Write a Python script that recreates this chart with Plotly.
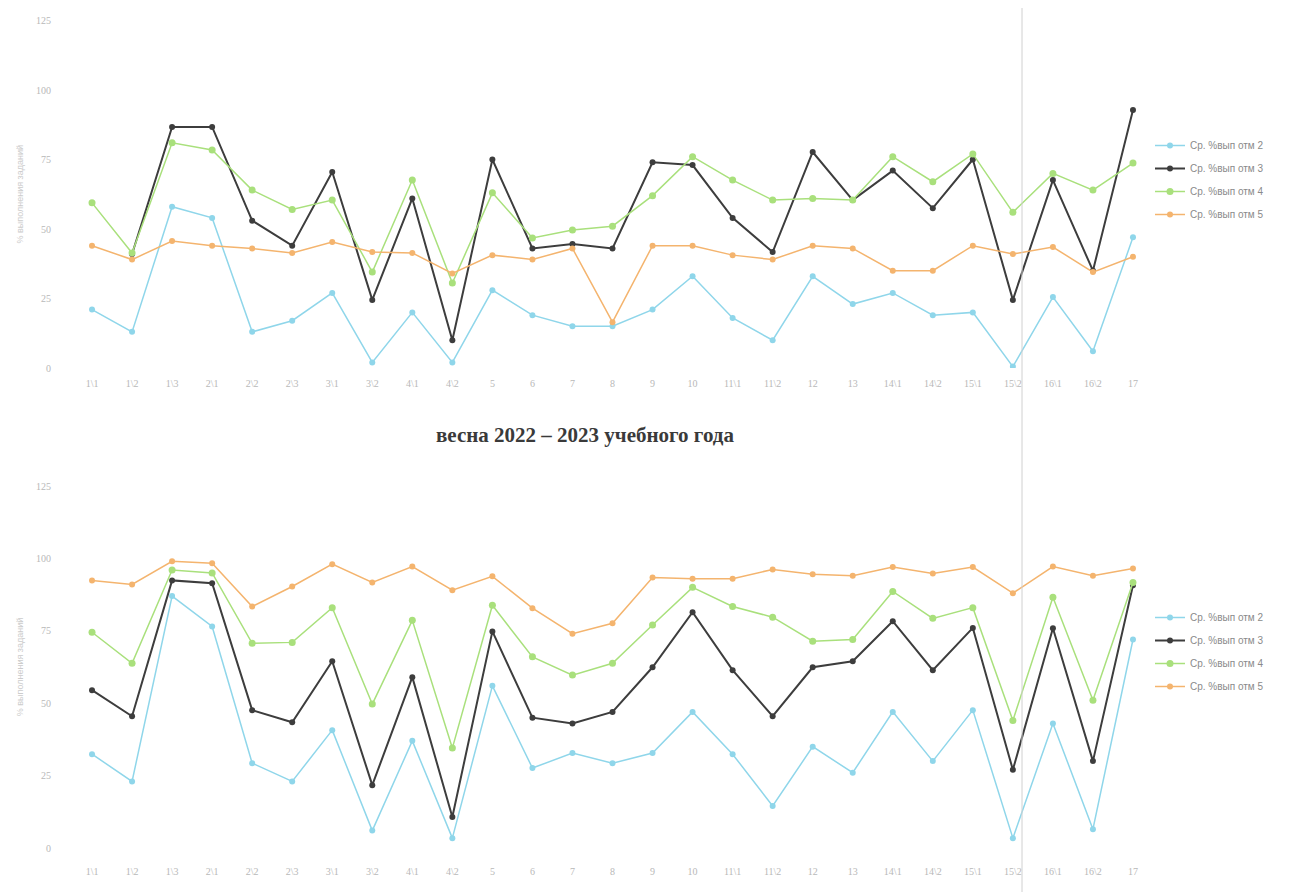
import plotly.graph_objects as go

categories = ["1\\1", "1\\2", "1\\3", "2\\1", "2\\2", "2\\3", "3\\1", "3\\2", "4\\1", "4\\2",
              "5", "6", "7", "8", "9", "10", "11\\1", "11\\2", "12", "13",
              "14\\1", "14\\2", "15\\1", "15\\2", "16\\1", "16\\2", "17"]

series_names = ["Ср. %вып отм 2", "Ср. %вып отм 3", "Ср. %вып отм 4", "Ср. %вып отм 5"]

# autumn (top chart)
top_m2 = [21, 13, 58, 54, 13, 17, 27, 2, 20, 2, 28, 19, 15, 15, 21, 33, 18, 10, 33, 23, 27, 19, 20, 0.5, 25.5, 6, 47]
top_m3 = [None, 41, 86.7, 86.7, 53, 44, 70.5, 24.5, 61, 10, 75, 43, 44.6, 43, 74, 73, 54, 41.7, 77.7, 60.4, 71, 57.5, 75, 24.5, 67.6, 35, 92.8]
top_m4 = [59.4, 41.4, 81, 78.4, 64, 57, 60.4, 34.5, 67.6, 30.6, 63, 46.8, 49.6, 51, 62, 76, 67.6, 60.4, 61, 60.4, 76, 67, 77, 56, 70, 64, 73.7]
top_m5 = [44, 39, 45.7, 44, 43, 41.4, 45.3, 41.7, 41.4, 34, 40.6, 39, 43, 16.5, 44, 44, 40.6, 39, 44, 43, 35, 35, 44, 41, 43.5, 34.5, 40]

# spring (bottom chart)
bot_m2 = [32.4, 23, 87, 76.5, 29.3, 23, 40.7, 6, 37, 3.4, 56, 27.6, 32.8, 29.3, 32.8, 47, 32.4, 14.5, 35, 26, 47, 30, 47.6, 3.4, 43, 6.5, 72]
bot_m3 = [54.5, 45.5, 92.4, 91.4, 47.6, 43.4, 64.5, 21.7, 59, 10.7, 74.8, 45, 43, 47, 62.4, 81.4, 61.4, 45.5, 62.4, 64.5, 78.3, 61.4, 76, 27, 75.9, 30, 90.7]
bot_m4 = [74.5, 63.8, 96, 95, 70.7, 71, 83, 49.7, 78.6, 34.5, 83.8, 66, 59.7, 63.8, 77, 90, 83.4, 79.7, 71.4, 72, 88.6, 79.3, 83, 44, 86.6, 51, 91.7]
bot_m5 = [92.4, 91, 99, 98.3, 83.4, 90.3, 98, 91.7, 97.2, 89, 93.8, 82.8, 74, 77.6, 93.4, 93, 93, 96.2, 94.5, 94, 97, 94.8, 97, 88, 97.2, 94, 96.5]

y_ticks = [0, 25, 50, 75, 100, 125]
bottom_title = "весна 2022 – 2023 учебного года"
y_title = "% выполнения заданий"

colors = ["#8fd6ea", "#3d3d3d", "#a9e07c", "#f4b46e"]
widths = [1.5, 2, 1.5, 1.5]
msizes = [6, 6, 7, 6]

# page is drawn with an 8px body margin
OFF = 8
W, H = 1296, 884


def px(x):
    return (x - OFF) / W


def py(y):
    return 1 - (y - OFF) / H


fig = go.Figure()

for i, (vals, name, c, w, ms) in enumerate(zip([top_m2, top_m3, top_m4, top_m5], series_names, colors, widths, msizes)):
    fig.add_trace(go.Scatter(x=categories, y=vals, name=name, mode="lines+markers",
                             line=dict(color=c, width=w), marker=dict(color=c, size=ms),
                             xaxis="x", yaxis="y", legend="legend", legendgroup="t%d" % i,
                             connectgaps=False))

for i, (vals, name, c, w, ms) in enumerate(zip([bot_m2, bot_m3, bot_m4, bot_m5], series_names, colors, widths, msizes)):
    fig.add_trace(go.Scatter(x=categories, y=vals, name=name, mode="lines+markers",
                             line=dict(color=c, width=w), marker=dict(color=c, size=ms),
                             xaxis="x2", yaxis="y2", legend="legend2", legendgroup="b%d" % i))

tickfont = dict(family="Liberation Serif", size=10, color="#b8b8b8")
axis_common = dict(showgrid=False, zeroline=False, showline=False, ticks="", automargin=False)

xdom = [px(72), px(1153)]
xrange = [-0.5, len(categories) - 0.5]

ytitle = dict(text=y_title, font=dict(size=9, color="#cccccc"), standoff=10)

fig.update_layout(
    width=W, height=H,
    margin=dict(l=0, r=0, t=0, b=0, autoexpand=False),
    paper_bgcolor="white", plot_bgcolor="white",
    font=dict(family="Liberation Sans", color="#999999"),
    xaxis=dict(domain=xdom, anchor="y", range=xrange, tickfont=tickfont, ticklabelstandoff=8, **axis_common),
    yaxis=dict(domain=[py(368), py(20.5)], range=[0, 125], tickvals=y_ticks, ticklabelstandoff=20,
               tickfont=tickfont, title=ytitle, **axis_common),
    xaxis2=dict(domain=xdom, anchor="y2", range=xrange, tickfont=tickfont, ticklabelstandoff=16, **axis_common),
    yaxis2=dict(domain=[py(848), py(486)], range=[0, 125], tickvals=y_ticks, ticklabelstandoff=20,
                tickfont=tickfont, title=ytitle, **axis_common),
    legend=dict(x=px(1150), y=py(131), xanchor="left", yanchor="top", tracegroupgap=4,
                font=dict(size=10, color="#8a8a8a"), bgcolor="rgba(0,0,0,0)", itemwidth=30),
    legend2=dict(x=px(1150), y=py(603), xanchor="left", yanchor="top", tracegroupgap=4,
                 font=dict(size=10, color="#8a8a8a"), bgcolor="rgba(0,0,0,0)", itemwidth=30),
    showlegend=True,
    annotations=[dict(text="<b>" + bottom_title + "</b>", xref="paper", yref="paper",
                      x=px(585), y=py(435), xanchor="center", yanchor="middle", showarrow=False,
                      font=dict(family="Liberation Serif", size=21, color="#3a3a3a"))],
    shapes=[dict(type="line", xref="paper", yref="paper", x0=px(1022), x1=px(1022), y0=0, y1=1,
                 line=dict(color="#d0d0d0", width=1))],
)

fig.write_html("out.html")
